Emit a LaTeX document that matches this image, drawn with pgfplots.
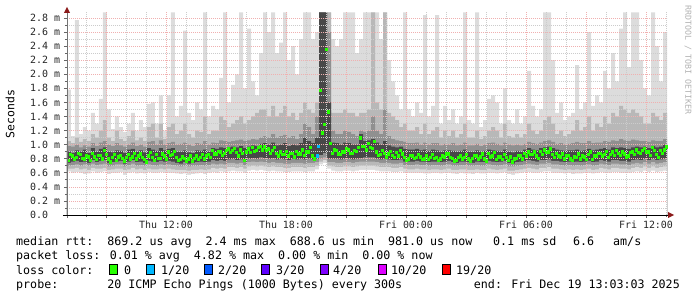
\documentclass[border=0pt]{standalone}
\usepackage{pgfplots}
\pgfplotsset{compat=1.18}
\usepackage{pgfplotstable}
\usepackage{fontspec}
\setmainfont{DejaVu Sans Mono}
\definecolor{cA}{HTML}{DCDCDC}
\definecolor{cB}{HTML}{B8B8B8}
\definecolor{cC}{HTML}{909090}
\definecolor{cD}{HTML}{484848}
\definecolor{gridred}{HTML}{F0B0B0}
\definecolor{gridgray}{HTML}{CCCCCC}
\definecolor{arrowred}{HTML}{8B1A1A}
\definecolor{lossA}{HTML}{26FF00}
\definecolor{lossB}{HTML}{00B8FF}
\definecolor{lossC}{HTML}{0059FF}
\definecolor{lossD}{HTML}{5E00FF}
\definecolor{lossE}{HTML}{7E00FF}
\definecolor{lossF}{HTML}{DD00FF}
\definecolor{lossG}{HTML}{FF0000}
\pgfplotstableread{
mx h2 h3 h4 l4 l3 l2 l1 ma mb
1.78 1.05 0.98 0.90 0.74 0.70 0.66 0.62 0.78 0.86
1.12 1.02 0.97 0.88 0.76 0.71 0.66 0.60 0.84 0.80
2.77 1.10 1.00 0.92 0.77 0.72 0.67 0.61 0.82 0.88
1.15 1.04 0.96 0.90 0.75 0.70 0.65 0.60 0.86 0.81
1.25 1.08 0.99 0.93 0.76 0.72 0.66 0.58 0.80 0.84
1.20 1.05 0.97 0.88 0.74 0.70 0.64 0.59 0.83 0.78
1.45 1.15 1.02 0.95 0.78 0.73 0.67 0.62 0.88 0.83
1.30 1.10 0.98 0.90 0.75 0.71 0.66 0.60 0.79 0.85
1.65 1.20 1.03 0.94 0.77 0.72 0.66 0.61 0.85 0.80
2.88 1.35 1.05 0.96 0.78 0.73 0.67 0.62 0.92 0.86
1.50 1.10 1.00 0.90 0.74 0.69 0.64 0.58 0.80 0.76
1.22 1.05 0.98 0.89 0.75 0.70 0.65 0.60 0.82 0.86
1.40 1.20 1.02 0.92 0.76 0.72 0.66 0.60 0.78 0.83
1.25 1.08 0.99 0.91 0.77 0.72 0.66 0.61 0.85 0.81
1.18 1.05 0.97 0.88 0.73 0.69 0.64 0.57 0.77 0.82
1.30 1.12 1.00 0.93 0.76 0.71 0.65 0.60 0.86 0.80
1.45 1.20 1.03 0.94 0.78 0.73 0.67 0.61 0.83 0.88
1.20 1.06 0.98 0.90 0.75 0.70 0.65 0.59 0.80 0.84
1.35 1.10 1.00 0.92 0.76 0.71 0.66 0.60 0.87 0.82
1.25 1.05 0.97 0.89 0.74 0.70 0.64 0.59 0.79 0.76
1.58 1.25 1.04 0.95 0.77 0.72 0.66 0.61 0.84 0.89
1.60 1.30 1.05 0.93 0.76 0.71 0.65 0.60 0.82 0.78
1.30 1.10 1.00 0.91 0.75 0.70 0.65 0.60 0.86 0.81
1.70 1.30 1.06 0.95 0.77 0.72 0.66 0.61 0.81 0.87
1.20 1.08 1.00 0.92 0.76 0.71 0.65 0.60 0.84 0.80
1.70 1.25 1.02 0.94 0.77 0.72 0.66 0.60 0.90 0.85
2.88 1.30 1.04 0.95 0.76 0.71 0.65 0.60 0.86 0.91
1.40 1.15 1.00 0.90 0.74 0.70 0.64 0.59 0.82 0.78
1.55 1.20 1.01 0.90 0.73 0.69 0.64 0.58 0.79 0.83
2.62 1.30 1.03 0.92 0.75 0.70 0.64 0.59 0.81 0.77
1.45 1.15 1.00 0.89 0.73 0.69 0.63 0.57 0.80 0.84
1.35 1.10 0.98 0.88 0.74 0.70 0.64 0.58 0.77 0.81
1.60 1.20 1.02 0.92 0.75 0.70 0.64 0.59 0.84 0.79
1.50 1.18 1.01 0.91 0.76 0.71 0.65 0.60 0.82 0.86
2.88 1.40 1.05 0.93 0.75 0.70 0.64 0.58 0.80 0.84
1.40 1.15 1.00 0.90 0.76 0.71 0.65 0.60 0.86 0.82
1.55 1.20 1.03 0.95 0.78 0.73 0.67 0.61 0.92 0.87
1.50 1.20 1.02 0.94 0.77 0.72 0.66 0.60 0.87 0.91
1.95 1.40 1.06 0.96 0.78 0.73 0.67 0.62 0.90 0.85
2.88 1.35 1.05 0.95 0.77 0.72 0.66 0.61 0.88 0.92
1.60 1.25 1.04 0.96 0.79 0.74 0.68 0.62 0.94 0.89
1.85 1.30 1.05 0.97 0.80 0.74 0.68 0.63 0.92 0.95
2.00 1.35 1.06 0.96 0.78 0.73 0.67 0.62 0.89 0.84
2.88 1.40 1.07 0.98 0.79 0.74 0.68 0.62 0.93 0.88
1.80 1.30 1.05 0.95 0.76 0.71 0.66 0.60 0.78 0.90
2.65 1.35 1.06 0.97 0.80 0.75 0.69 0.63 0.94 0.89
1.90 1.40 1.08 0.99 0.81 0.76 0.70 0.64 0.96 0.91
1.70 1.45 1.07 0.98 0.80 0.75 0.69 0.63 0.92 0.96
2.30 1.50 1.10 1.01 0.82 0.76 0.70 0.64 0.98 0.93
2.88 1.50 1.12 1.02 0.81 0.75 0.69 0.63 0.97 0.92
2.60 1.40 1.10 1.00 0.80 0.74 0.68 0.62 0.94 0.88
2.88 1.55 1.15 1.03 0.81 0.75 0.69 0.63 0.92 0.96
2.30 1.40 1.10 0.99 0.79 0.74 0.68 0.62 0.88 0.84
2.45 1.45 1.12 1.00 0.80 0.74 0.68 0.62 0.90 0.86
2.88 1.55 1.14 1.02 0.79 0.73 0.67 0.61 0.86 0.91
2.20 1.40 1.10 0.98 0.78 0.73 0.67 0.61 0.84 0.88
2.40 1.45 1.12 1.00 0.80 0.74 0.68 0.62 0.88 0.83
2.00 1.35 1.08 0.99 0.79 0.74 0.68 0.62 0.91 0.87
2.50 1.45 1.15 1.02 0.80 0.74 0.68 0.62 0.87 0.93
2.88 1.60 1.30 1.10 0.79 0.73 0.67 0.61 0.85 0.90
2.88 1.50 1.25 1.05 0.80 0.74 0.68 0.62 0.90 0.96
2.50 1.45 1.15 1.02 0.79 0.74 0.68 0.62 0.84 0.80
2.60 1.60 1.40 1.10 0.80 0.75 0.70 0.65 nan nan
2.88 2.88 2.88 2.88 0.85 0.80 0.76 0.72 1.77 1.17
2.88 2.88 2.88 2.88 0.88 0.82 0.78 0.74 1.29 2.36
2.88 2.88 2.60 1.60 0.80 0.75 0.70 0.66 1.47 1.02
2.50 1.45 1.20 1.03 0.80 0.75 0.69 0.63 0.88 0.93
2.40 1.45 1.15 1.02 0.80 0.74 0.68 0.62 0.92 0.87
2.50 1.45 1.15 1.00 0.79 0.74 0.68 0.62 0.86 0.90
2.88 1.50 1.20 1.03 0.80 0.75 0.69 0.63 0.90 0.95
2.88 1.45 1.18 1.02 0.80 0.75 0.69 0.63 0.93 0.88
2.88 1.45 1.15 1.00 0.79 0.74 0.68 0.62 0.88 0.92
2.30 1.40 1.12 1.00 0.80 0.75 0.69 0.63 0.91 0.96
2.50 1.45 1.20 1.15 0.81 0.76 0.70 0.64 1.10 0.98
2.88 1.45 1.18 1.05 0.82 0.76 0.70 0.64 0.98 0.93
2.88 1.50 1.20 1.06 0.82 0.76 0.70 0.64 1.02 0.96
2.88 2.88 1.40 1.08 0.82 0.76 0.70 0.64 0.95 1.05
2.88 1.60 1.20 1.03 0.80 0.75 0.69 0.63 0.90 0.85
2.50 1.50 1.15 1.00 0.79 0.74 0.68 0.62 0.86 0.92
2.88 2.88 1.50 1.05 0.80 0.74 0.68 0.62 0.88 0.83
2.20 1.45 1.12 0.99 0.79 0.74 0.68 0.62 0.87 0.91
1.90 1.40 1.08 0.97 0.78 0.73 0.67 0.61 0.85 0.82
1.70 1.35 1.06 0.96 0.78 0.73 0.67 0.61 0.89 0.84
1.50 1.25 1.05 0.97 0.79 0.74 0.68 0.62 0.92 0.87
2.88 1.30 1.04 0.94 0.76 0.71 0.66 0.60 0.82 0.78
1.50 1.20 1.02 0.93 0.76 0.71 0.65 0.60 0.80 0.85
1.40 1.20 1.02 0.93 0.76 0.71 0.65 0.60 0.84 0.81
1.60 1.25 1.03 0.94 0.77 0.72 0.66 0.60 0.82 0.86
1.45 1.15 1.00 0.92 0.76 0.71 0.65 0.60 0.83 0.79
2.84 1.30 1.03 0.93 0.76 0.71 0.65 0.59 0.80 0.84
1.40 1.15 1.00 0.91 0.75 0.70 0.64 0.59 0.79 0.82
1.55 1.20 1.02 0.93 0.76 0.71 0.65 0.60 0.86 0.81
2.84 1.25 1.02 0.92 0.76 0.71 0.65 0.60 0.82 0.78
1.30 1.10 0.99 0.90 0.75 0.70 0.64 0.59 0.80 0.84
1.55 1.20 1.01 0.92 0.76 0.71 0.65 0.60 0.83 0.87
1.35 1.12 1.00 0.92 0.77 0.72 0.66 0.60 0.87 0.82
1.50 1.20 1.02 0.91 0.75 0.70 0.64 0.59 0.81 0.77
1.30 1.10 0.99 0.90 0.74 0.70 0.64 0.58 0.78 0.82
1.40 1.15 1.00 0.91 0.76 0.71 0.65 0.60 0.84 0.80
2.88 1.30 1.03 0.93 0.76 0.71 0.65 0.59 0.82 0.86
1.35 1.10 0.99 0.90 0.75 0.70 0.64 0.59 0.80 0.77
1.30 1.10 0.99 0.90 0.74 0.70 0.64 0.58 0.81 0.85
2.88 1.20 1.01 0.92 0.76 0.71 0.65 0.60 0.84 0.80
1.25 1.08 0.98 0.90 0.75 0.70 0.64 0.59 0.83 0.87
1.35 1.12 1.00 0.91 0.75 0.70 0.64 0.59 0.80 0.77
1.65 1.20 1.02 0.93 0.77 0.72 0.66 0.60 0.88 0.83
1.70 1.25 1.03 0.92 0.76 0.71 0.65 0.60 0.84 0.89
1.60 1.20 1.01 0.91 0.75 0.70 0.64 0.59 0.79 0.83
1.30 1.10 0.99 0.90 0.76 0.71 0.65 0.60 0.83 0.79
1.80 1.30 1.03 0.93 0.77 0.72 0.66 0.61 0.86 0.82
1.35 1.12 1.00 0.90 0.74 0.69 0.63 0.58 0.78 0.83
1.30 1.10 0.99 0.89 0.73 0.69 0.63 0.57 0.76 0.80
1.50 1.15 1.00 0.91 0.75 0.70 0.64 0.59 0.81 0.85
1.30 1.10 0.99 0.90 0.76 0.71 0.65 0.60 0.84 0.80
1.40 1.15 1.01 0.93 0.77 0.72 0.66 0.61 0.88 0.84
2.05 1.30 1.04 0.95 0.78 0.73 0.67 0.61 0.90 0.86
1.55 1.20 1.02 0.93 0.77 0.72 0.66 0.60 0.86 0.90
1.40 1.15 1.01 0.92 0.76 0.71 0.65 0.60 0.84 0.81
1.50 1.20 1.03 0.95 0.78 0.73 0.67 0.61 0.91 0.86
2.88 1.35 1.05 0.96 0.78 0.73 0.67 0.62 0.93 0.89
2.88 1.40 1.06 0.97 0.79 0.74 0.68 0.62 0.90 0.94
2.20 1.30 1.04 0.95 0.77 0.72 0.66 0.60 0.86 0.82
1.45 1.15 1.01 0.93 0.77 0.72 0.66 0.60 0.88 0.84
1.60 1.20 1.02 0.92 0.76 0.71 0.65 0.60 0.83 0.87
1.35 1.12 1.00 0.91 0.75 0.70 0.64 0.59 0.80 0.84
1.40 1.15 1.01 0.92 0.76 0.71 0.65 0.60 0.85 0.80
1.45 1.20 1.02 0.92 0.75 0.70 0.64 0.58 0.78 0.83
2.13 1.35 1.04 0.93 0.76 0.71 0.65 0.59 0.82 0.87
1.50 1.20 1.02 0.91 0.75 0.70 0.64 0.59 0.80 0.84
1.60 1.25 1.02 0.92 0.76 0.71 0.65 0.60 0.83 0.79
2.60 1.40 1.05 0.94 0.77 0.72 0.66 0.60 0.86 0.90
1.55 1.20 1.02 0.92 0.75 0.70 0.64 0.59 0.79 0.84
1.70 1.30 1.03 0.93 0.76 0.71 0.65 0.60 0.84 0.88
1.60 1.25 1.03 0.94 0.78 0.73 0.67 0.61 0.88 0.84
2.05 1.40 1.05 0.95 0.77 0.72 0.66 0.60 0.86 0.91
1.80 1.30 1.04 0.93 0.76 0.71 0.65 0.60 0.82 0.86
2.30 1.45 1.06 0.96 0.78 0.73 0.67 0.61 0.90 0.85
1.90 1.40 1.05 0.95 0.78 0.73 0.67 0.61 0.92 0.88
2.65 1.55 1.08 0.96 0.77 0.72 0.66 0.60 0.85 0.90
2.88 1.50 1.06 0.95 0.77 0.72 0.66 0.60 0.87 0.83
2.10 1.45 1.05 0.94 0.76 0.71 0.65 0.60 0.84 0.89
2.88 1.50 1.07 0.96 0.78 0.73 0.67 0.61 0.90 0.86
2.88 1.45 1.06 0.97 0.79 0.74 0.68 0.62 0.93 0.89
2.20 1.40 1.05 0.96 0.78 0.73 0.67 0.61 0.88 0.92
1.80 1.30 1.05 0.97 0.80 0.75 0.69 0.63 0.95 0.90
1.70 1.30 1.04 0.95 0.78 0.73 0.67 0.61 0.90 0.85
2.88 1.45 1.06 0.98 0.80 0.75 0.69 0.63 0.96 0.92
2.40 1.40 1.05 0.96 0.78 0.73 0.67 0.61 0.86 0.82
1.90 1.35 1.05 0.97 0.79 0.74 0.68 0.62 0.92 0.88
2.60 1.45 1.08 1.00 0.80 0.75 0.69 0.63 0.93 0.97
2.60 1.45 1.08 1.00 0.80 0.75 0.69 0.63 nan nan
}\smoke

\begin{document}
\begin{tikzpicture}
\path[use as bounding box] (-67bp,-82bp) rectangle (630bp,215bp);
\begin{axis}[
  at={(0,0)}, anchor=south west,
  scale only axis, width=600bp, height=203bp,
  xmin=-4.95, xmax=25.05, ymin=0, ymax=2.885,
  axis on top, clip=true,
  axis line style={draw=none},
  tick pos=left,
  xtick={-3,0,3,6,9,12,15,18,21,24},
  xticklabels={,Thu 12:00,,Thu 18:00,,Fri 00:00,,Fri 06:00,,Fri 12:00},
  minor xtick={-4,-2,-1,1,2,4,5,7,8,10,11,13,14,16,17,19,20,22,23,25},
  ytick={0,0.2,0.4,0.6,0.8,1,1.2,1.4,1.6,1.8,2,2.2,2.4,2.6,2.8},
  yticklabels={0.0,0.2 m,0.4 m,0.6 m,0.8 m,1.0 m,1.2 m,1.4 m,1.6 m,1.8 m,2.0 m,2.2 m,2.4 m,2.6 m,2.8 m},
  minor ytick={0.1,0.3,0.5,0.7,0.9,1.1,1.3,1.5,1.7,1.9,2.1,2.3,2.5,2.7},
  grid=both,
  major grid style={draw=gridred, dash pattern=on 1bp off 1bp, line width=0.7bp},
  minor grid style={draw=gridgray, dash pattern=on 1bp off 1bp, line width=0.7bp},
  tick align=outside, major tick length=3bp, minor tick length=2bp,
  tick style={black!60, line width=0.7bp},
  ticklabel style={font=\fontsize{10}{12}\selectfont, text=black!85},
  yticklabel style={anchor=west, inner sep=0pt, xshift=-34bp},
  xticklabel style={anchor=north, inner sep=0pt, yshift=-3bp},
]
\addplot[const plot, fill=cA, draw=none] table[x expr=\coordindex*0.2-4.95, y=mx] {\smoke} \closedcycle;
\addplot[const plot, fill=cB, draw=none] table[x expr=\coordindex*0.2-4.95, y=h2] {\smoke} \closedcycle;
\addplot[const plot, fill=cC, draw=none] table[x expr=\coordindex*0.2-4.95, y=h3] {\smoke} \closedcycle;
\addplot[const plot, fill=cD, draw=none] table[x expr=\coordindex*0.2-4.95, y=h4] {\smoke} \closedcycle;
\addplot[const plot, fill=cC, draw=none] table[x expr=\coordindex*0.2-4.95, y=l4] {\smoke} \closedcycle;
\addplot[const plot, fill=cB, draw=none] table[x expr=\coordindex*0.2-4.95, y=l3] {\smoke} \closedcycle;
\addplot[const plot, fill=cA, draw=none] table[x expr=\coordindex*0.2-4.95, y=l2] {\smoke} \closedcycle;
\addplot[const plot, fill=white, draw=none] table[x expr=\coordindex*0.2-4.95, y=l1] {\smoke} \closedcycle;
\addplot[only marks, mark=square*, mark size=1.2bp, color=lossA, unbounded coords=discard] table[x expr=\coordindex*0.2-4.9, y=ma] {\smoke};
\addplot[only marks, mark=square*, mark size=1.2bp, color=lossA, unbounded coords=discard] table[x expr=\coordindex*0.2-4.8, y=mb] {\smoke};
\addplot[only marks, mark=square*, mark size=1.2bp, color=lossB] coordinates {(7.55,0.84) (7.62,0.98)};
\end{axis}
% axis lines and arrows
\draw[black!55, line width=1bp] (0,-3bp) -- (0,204bp);
\fill[arrowred] (-3bp,202bp) -- (3bp,202bp) -- (0,208bp) -- cycle;
\draw[black, line width=1bp] (-4bp,0) -- (602bp,0);
\fill[arrowred] (601bp,3bp) -- (601bp,-3bp) -- (607bp,0) -- cycle;
% labels
\node[rotate=90, font=\fontsize{11.5}{13}\selectfont] at (-57bp,101bp) {Seconds};
\node[rotate=-90, anchor=west, inner sep=0pt, text=black!30, font=\fontsize{8.3}{10}\selectfont] at (621bp,210bp) {RRDTOOL / TOBI OETIKER};
\begin{scope}[every node/.style={anchor=base west, inner sep=0pt, font=\fontsize{11.7}{14}\selectfont}]
\node at (-51bp,-30.5bp) {median rtt:~~869.2 us avg~~2.4 ms max~~688.6 us min~~981.0 us now};
\node at (426bp,-30.5bp) {0.1 ms sd};
\node at (506bp,-30.5bp) {6.6};
\node at (546bp,-30.5bp) {am/s};
\node at (-51bp,-44.8bp) {packet loss: 0.01 \% avg~~4.82 \% max~~0.00 \% min~~0.00 \% now};
\node at (-51bp,-59.1bp) {loss color:};
\node at (57bp,-59.1bp) {0};
\node at (94bp,-59.1bp) {1/20};
\node at (151bp,-59.1bp) {2/20};
\node at (209bp,-59.1bp) {3/20};
\node at (266bp,-59.1bp) {4/20};
\node at (324bp,-59.1bp) {10/20};
\node at (389bp,-59.1bp) {19/20};
\node at (-51bp,-73.4bp) {probe:~~~~~~~20 ICMP Echo Pings (1000 Bytes) every 300s};
\node[anchor=base east] at (613bp,-73.4bp) {end: Fri Dec 19 13:03:03 2025};
\end{scope}
\begin{scope}[line width=0.8bp]
\filldraw[fill=lossA, draw=black] (42bp,-59.5bp) rectangle (50bp,-49bp);
\filldraw[fill=lossB, draw=black] (79bp,-59.5bp) rectangle (87bp,-49bp);
\filldraw[fill=lossC, draw=black] (137bp,-59.5bp) rectangle (145bp,-49bp);
\filldraw[fill=lossD, draw=black] (194bp,-59.5bp) rectangle (202bp,-49bp);
\filldraw[fill=lossE, draw=black] (253bp,-59.5bp) rectangle (261bp,-49bp);
\filldraw[fill=lossF, draw=black] (311bp,-59.5bp) rectangle (319bp,-49bp);
\filldraw[fill=lossG, draw=black] (375bp,-59.5bp) rectangle (383bp,-49bp);
\end{scope}
\end{tikzpicture}
\end{document}
